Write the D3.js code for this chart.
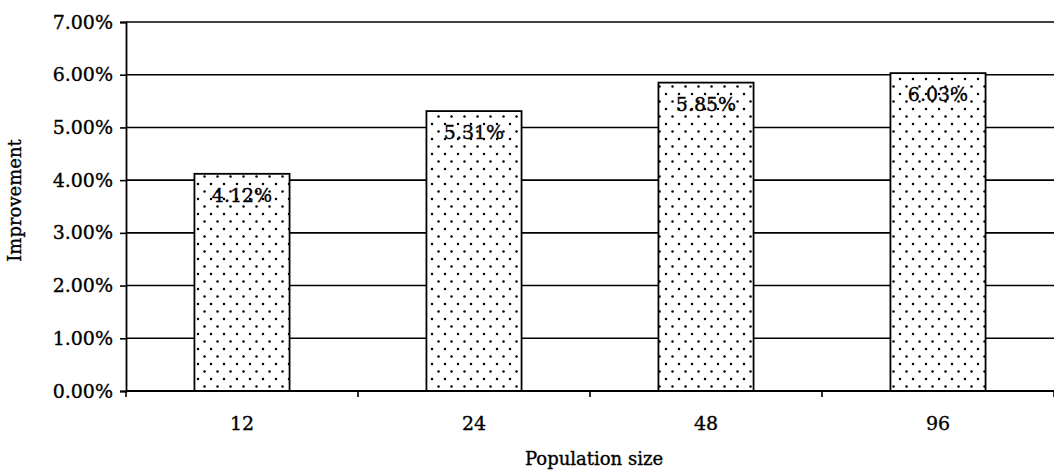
<!DOCTYPE html>
<html><head><meta charset="utf-8">
<script src="https://cdn.jsdelivr.net/npm/d3@7/dist/d3.min.js"></script>
<style>body{margin:0;background:#fff}svg{display:block}text{font-family:"DejaVu Serif","Liberation Serif",serif;fill:#000;stroke:#000;stroke-width:0.35px}</style>
</head><body><svg id="c" width="1054" height="475"></svg>
<script>
const categories = ["12","24","48","96"];
const values = [4.12, 5.31, 5.85, 6.03];
const valueLabels = ["4.12%","5.31%","5.85%","6.03%"];
const yTicks = [0,1,2,3,4,5,6,7];

const svg = d3.select("#c");
const m = {l:126, r:0, t:22, b:84};
const W = 1054, H = 475;
const x = d3.scaleBand().domain(categories).range([m.l, W - m.r]).paddingInner(0.59).paddingOuter(0.295);
const xb = d3.scaleBand().domain(categories).range([m.l, W - m.r]);
const y = d3.scaleLinear().domain([0,7]).range([H - m.b, m.t]);

const defs = svg.append("defs");
const pat = defs.append("pattern").attr("id","dots").attr("patternUnits","userSpaceOnUse")
  .attr("width",13).attr("height",15);
pat.append("rect").attr("width",13).attr("height",15).attr("fill","#fff");
pat.append("circle").attr("cx",3).attr("cy",4).attr("r",1.25).attr("fill","#000");
pat.append("circle").attr("cx",9.5).attr("cy",11.5).attr("r",1.25).attr("fill","#000");

// gridlines
svg.append("g").selectAll("line").data(yTicks.filter(d=>d>0)).join("line")
  .attr("x1", m.l).attr("x2", W).attr("y1", d=>y(d)).attr("y2", d=>y(d))
  .attr("stroke","#000").attr("stroke-width",1.6);

// y axis
const ya = svg.append("g").attr("transform",`translate(${m.l},0)`)
  .call(d3.axisLeft(y).tickValues(yTicks).tickFormat(d=>d.toFixed(2)+"%").tickSize(6).tickPadding(7));
ya.select(".domain").attr("stroke-width",1.8);
ya.selectAll(".tick line").attr("stroke-width",1.6);
ya.selectAll("text").attr("font-size",19).attr("font-family","DejaVu Serif, serif");

// bars
svg.append("g").selectAll("rect").data(values).join("rect")
  .attr("x",(d,i)=>x(categories[i])).attr("width",x.bandwidth())
  .attr("y",d=>y(d)).attr("height",d=>y(0)-y(d))
  .attr("fill","url(#dots)").attr("stroke","#000").attr("stroke-width",1.8);

// value labels
svg.append("g").selectAll("text").data(values).join("text")
  .attr("x",(d,i)=>x(categories[i])+x.bandwidth()/2).attr("y",d=>y(d)+28)
  .attr("text-anchor","middle").attr("font-size",19).text((d,i)=>valueLabels[i]);

// x axis
const xa = svg.append("g").attr("transform",`translate(0,${y(0)})`);
xa.append("line").attr("x1",m.l).attr("x2",W).attr("stroke","#000").attr("stroke-width",1.8);
const bounds = categories.map(c=>xb(c)).concat([W]);
xa.selectAll(".tk").data(bounds).join("line").attr("class","tk")
  .attr("x1",d=>d).attr("x2",d=>d).attr("y1",0).attr("y2",6).attr("stroke","#000").attr("stroke-width",1.6);
xa.selectAll(".lb").data(categories).join("text").attr("class","lb")
  .attr("x",d=>xb(d)+xb.bandwidth()/2).attr("y",39).attr("text-anchor","middle").attr("font-size",19).text(d=>d);

// axis titles
svg.append("text").attr("x", 594).attr("y", 465).attr("text-anchor","middle").attr("font-size",18).text("Population size");
svg.append("text").attr("transform",`translate(21,${(y(0)+y(7))/2 - 6}) rotate(-90)`).attr("text-anchor","middle").attr("font-size",18).text("Improvement");
</script></body></html>
